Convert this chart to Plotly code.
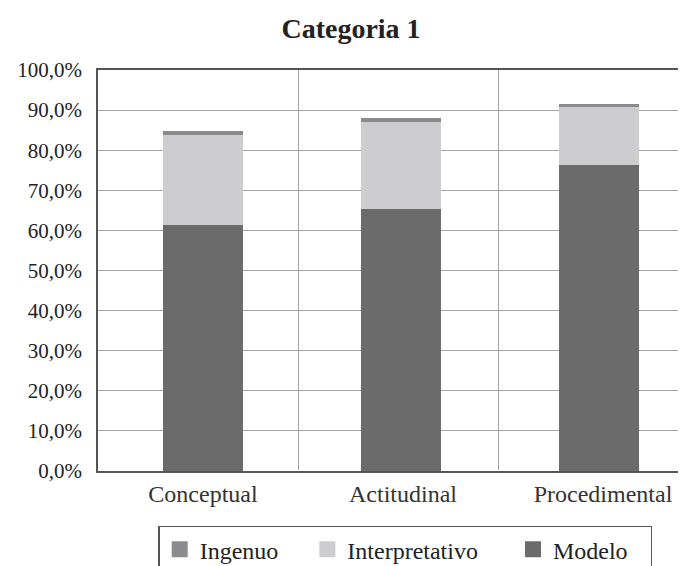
import plotly.graph_objects as go

categories = ["Conceptual", "Actitudinal", "Procedimental"]
modelo = [61.4, 65.4, 76.3]
interpretativo = [22.4, 21.7, 14.4]
ingenuo = [1.0, 0.9, 0.8]
y_ticks = [0, 10, 20, 30, 40, 50, 60, 70, 80, 90, 100]
y_tick_labels = ["0,0%", "10,0%", "20,0%", "30,0%", "40,0%", "50,0%",
                 "60,0%", "70,0%", "80,0%", "90,0%", "100,0%"]

FONT = "Liberation Serif"
C_MODELO = "#6b6b6b"
C_INTERP = "#cdcdcf"
C_INGENUO = "#8b8b8d"
NB = "\u00a0"

bar_style = dict(width=0.4, offset=[-0.173, -0.184, -0.195], showlegend=False)

fig = go.Figure()
fig.add_trace(go.Bar(name="Modelo", x=categories, y=modelo,
                     marker=dict(color=C_MODELO, line=dict(width=0)), **bar_style))
fig.add_trace(go.Bar(name="Interpretativo", x=categories, y=interpretativo,
                     marker=dict(color=C_INTERP, line=dict(width=0)), **bar_style))
fig.add_trace(go.Bar(name="Ingenuo", x=categories, y=ingenuo,
                     marker=dict(color=C_INGENUO, line=dict(width=0)), **bar_style))

# legend entries (square swatches)
for name, color, pad in [("Ingenuo", C_INGENUO, 4), ("Interpretativo", C_INTERP, 5),
                         ("Modelo", C_MODELO, 3)]:
    fig.add_trace(go.Scatter(name=name + NB * pad, x=[None], y=[None], mode="markers",
                             marker=dict(symbol="square", size=18, color=color),
                             showlegend=True, hoverinfo="skip"))

fig.update_layout(
    width=686, height=566,
    barmode="stack",
    paper_bgcolor="white", plot_bgcolor="white",
    margin=dict(l=90, r=0, t=62, b=99),
    font=dict(family=FONT, size=21, color="#222222"),
    title=dict(text="<b>Categoria 1</b>", x=0.5, xanchor="center", y=0.965, yanchor="middle",
               font=dict(family=FONT, size=28, color="#222222")),
    showlegend=True,
    legend=dict(orientation="h", x=0.101, xanchor="left", y=-0.136, yanchor="top",
                bordercolor="#555555", borderwidth=1.5, traceorder="normal",
                font=dict(family=FONT, size=24, color="#222222"),
                itemwidth=30, itemsizing="trace"),
    xaxis=dict(type="category", range=[-0.5, 2.48], tickson="boundaries",
               showgrid=True, gridcolor="#a4a4a4", gridwidth=1,
               showline=True, linecolor="#555555", linewidth=1.5, mirror=True,
               ticks="", ticklabelshift=5,
               tickfont=dict(family=FONT, size=24, color="#333333")),
    yaxis=dict(range=[0, 100], tickvals=y_ticks, ticktext=y_tick_labels,
               showgrid=True, gridcolor="#a4a4a4", gridwidth=1,
               showline=True, linecolor="#555555", linewidth=1.5,
               ticks="", ticklabelstandoff=10,
               tickfont=dict(family=FONT, size=21, color="#222222")),
)

fig.write_html("out.html")
